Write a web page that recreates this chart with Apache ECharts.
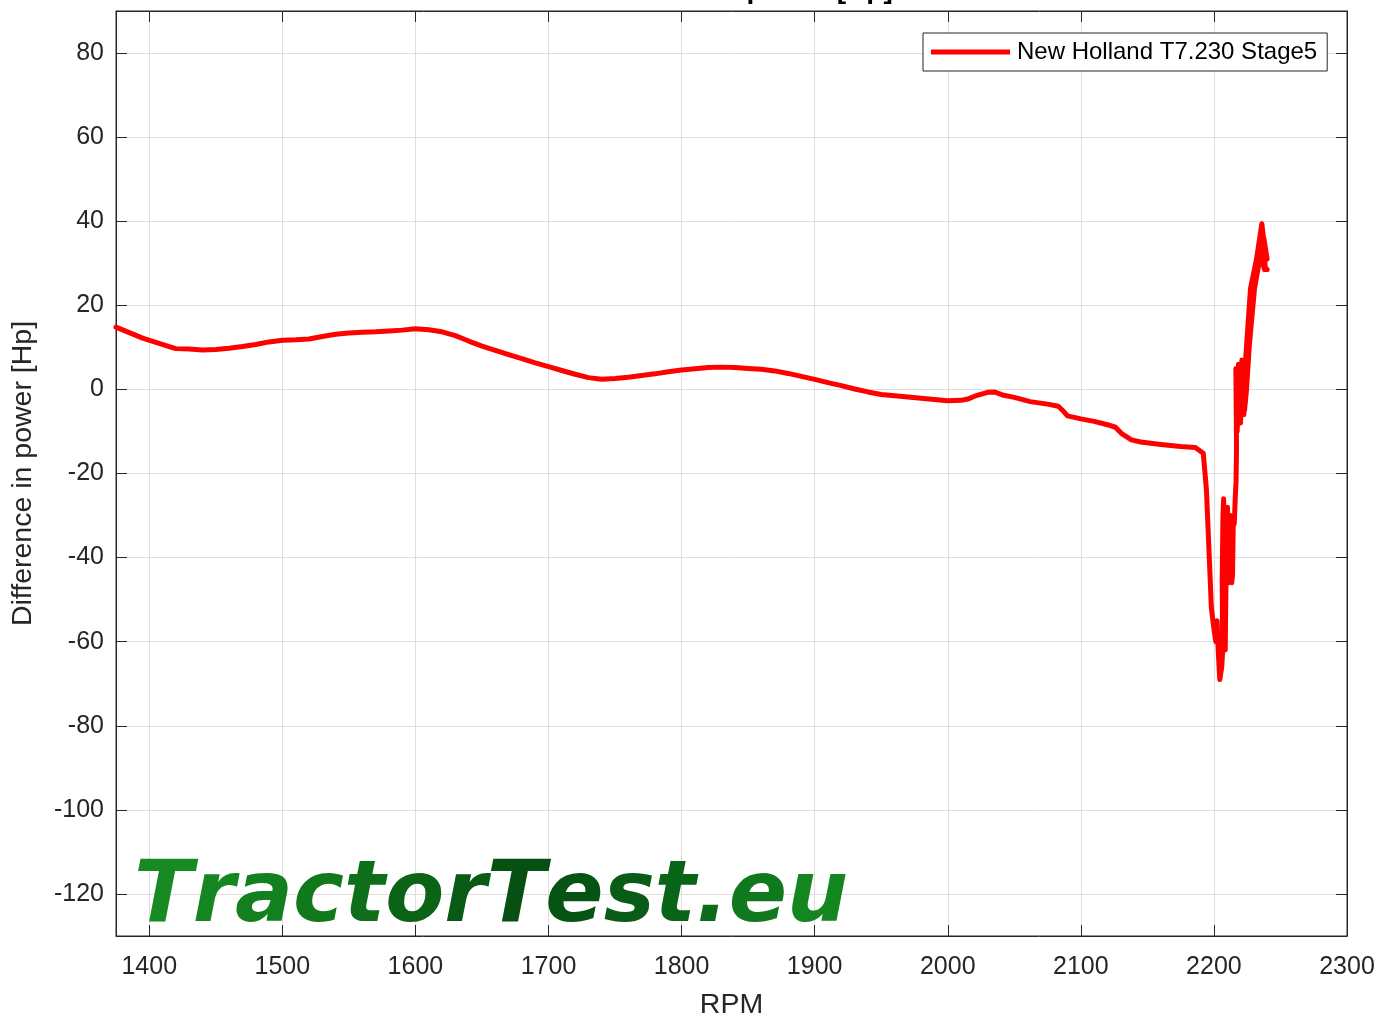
<!DOCTYPE html>
<html>
<head>
<meta charset="utf-8">
<title>Difference in power [Hp]</title>
<script src="https://cdn.jsdelivr.net/npm/echarts@6/dist/echarts.min.js"></script>
<style>
  html, body { margin: 0; padding: 0; background: #fff; }
  #main { width: 1382px; height: 1019px; }
</style>
</head>
<body>
<div id="main"></div>
<script>
// curve: rpm -> power difference [Hp]
const seriesName = 'New Holland T7.230 Stage5'

const rpm = [
  1375, 1385, 1395, 1405, 1415, 1420, 1430, 1440, 1450, 1460,
  1470, 1480, 1490, 1500, 1510, 1520, 1530, 1540, 1550, 1560,
  1570, 1580, 1590, 1600, 1610, 1620, 1630, 1640, 1650, 1660,
  1670, 1680, 1690, 1700, 1710, 1720, 1730, 1740, 1750, 1760,
  1770, 1780, 1790, 1800, 1810, 1820, 1830, 1840, 1850, 1860,
  1870, 1880, 1890, 1900, 1910, 1920, 1930, 1940, 1950, 1960,
  1970, 1980, 1990, 2000, 2010, 2015, 2022, 2030, 2035, 2042,
  2050, 2062, 2075, 2083, 2087, 2090, 2100, 2110, 2120, 2126,
  2131, 2138, 2145, 2160, 2175, 2186, 2192
]
const hpDiff = [
  14.8, 13.5, 12.2, 11.2, 10.2, 9.7, 9.6, 9.4, 9.5, 9.8,
  10.2, 10.7, 11.3, 11.7, 11.8, 12.0, 12.6, 13.1, 13.4, 13.6,
  13.7, 13.9, 14.1, 14.4, 14.2, 13.7, 12.8, 11.5, 10.3, 9.3,
  8.3, 7.3, 6.3, 5.4, 4.5, 3.6, 2.8, 2.4, 2.6, 2.9,
  3.3, 3.7, 4.2, 4.6, 4.9, 5.2, 5.3, 5.2, 5.0, 4.8,
  4.4, 3.8, 3.1, 2.4, 1.6, 0.9, 0.1, -0.6, -1.2, -1.5,
  -1.8, -2.1, -2.4, -2.7, -2.6, -2.3, -1.4, -0.7, -0.6, -1.4,
  -1.9, -2.9, -3.5, -4.0, -5.2, -6.3, -7.0, -7.6, -8.4, -9.0,
  -10.6, -12.0, -12.5, -13.1, -13.6, -13.8, -15.2
]

// the noisy bit at the top of the rev range (pen goes back and forth)
const rpmTail = [
  2194.4, 2198.1, 2200, 2201.4, 2202.4, 2203.2, 2204.4, 2205.9, 2206.6, 2206.2,
  2206.8, 2207.3, 2207.8, 2208, 2208.5, 2209, 2209.6, 2210.2, 2210.8, 2211.3,
  2212, 2212.6, 2213.4, 2214, 2214.6, 2215.3, 2216, 2216.6, 2217, 2216.5,
  2217.5, 2218.5, 2220, 2221, 2222.5, 2224, 2227.5, 2232, 2236, 2237.3,
  2238, 2238.5, 2240, 2238, 2235, 2230.5, 2226.5, 2224.5, 2223, 2226,
  2229, 2233.5, 2237.5, 2240
]
const hpTail = [
  -24, -52, -57, -60, -55, -62, -69, -66, -62, -45,
  -30, -26, -40, -58, -62, -48, -32, -28, -44, -46,
  -36, -30, -46, -44, -30, -32, -26, -22, -14, 5,
  -10, 6, -8, 7, -6, 8, 24, 31, 39.4, 39,
  34, 29, 28.5, 28.5, 32, 24, 10, 0, -5, 14,
  22, 30, 36, 31
]

const xRange = [1375, 2300]
const yRange = [-130, 90]

// watermark letters, dark in the middle and lighter green towards the ends
const markChars = ['T', 'r', 'a', 'c', 't', 'o', 'r', 'T', 'e', 's', 't', '.', 'e', 'u']
const markColors = ['#178a24', '#158622', '#13801f', '#11781c', '#0e6e19', '#0b6316', '#095a14',
  '#065012', '#065413', '#085c15', '#0a6417', '#0c6c1a', '#10791d', '#138620']

const chart = echarts.init(document.getElementById('main'))

const font = 'Liberation Sans, Arial, Helvetica, sans-serif'
const axisColor = '#262626'

const points = rpm.map((r, i) => [r, hpDiff[i]])
  .concat(rpmTail.map((r, i) => [r, hpTail[i]]))

const markFont = 'italic bold 86px DejaVu Sans'
const markRich = {}
markChars.forEach((c, i) => {
  markRich['c' + i] = { fill: markColors[i], font: markFont }
})
const markText = markChars.map((c, i) => '{c' + i + '|' + c + '}').join('')

const option = {
  backgroundColor: '#fff',
  animation: false,
  grid: {
    left: 116, top: 11, right: 35, bottom: 83,
    outerBoundsMode: 'none',
    show: true, borderColor: axisColor, borderWidth: 1
  },
  legend: {
    left: 923, top: 33,
    padding: [7, 10, 7, 8],
    borderColor: axisColor, borderWidth: 1, borderRadius: 0,
    backgroundColor: '#fff',
    icon: 'rect',
    itemWidth: 79, itemHeight: 5, itemGap: 0,
    textStyle: { fontFamily: font, fontSize: 24, color: '#000', padding: [0, 0, 0, 2], lineHeight: 24 },
    data: [seriesName]
  },
  xAxis: [{
    type: 'value', min: xRange[0], max: xRange[1], splitNumber: 9,
    name: 'RPM', nameLocation: 'middle', nameGap: 55,
    nameTextStyle: { fontFamily: font, fontSize: 28.5, color: axisColor },
    axisLine: { show: true, onZero: false, lineStyle: { color: axisColor, width: 1 } },
    axisTick: { inside: true, length: 11, lineStyle: { color: axisColor } },
    axisLabel: {
      showMinLabel: false, margin: 19, fontFamily: font, fontSize: 25, color: axisColor,
      formatter: v => String(v)
    },
    splitLine: { show: true, lineStyle: { color: '#dedede', width: 1 } }
  }, {
    type: 'value', position: 'top', min: xRange[0], max: xRange[1], splitNumber: 9,
    axisLine: { show: true, onZero: false, lineStyle: { color: axisColor, width: 1 } },
    axisTick: { inside: true, length: 11, lineStyle: { color: axisColor } },
    axisLabel: { show: false },
    splitLine: { show: false }
  }],
  yAxis: [{
    type: 'value', min: yRange[0], max: yRange[1], splitNumber: 11,
    name: 'Difference in power [Hp]', nameLocation: 'middle', nameGap: 78,
    nameTextStyle: { fontFamily: font, fontSize: 28.5, color: axisColor },
    axisLine: { show: true, onZero: false, lineStyle: { color: axisColor, width: 1 } },
    axisTick: { inside: true, length: 11, lineStyle: { color: axisColor } },
    axisLabel: { showMinLabel: false, showMaxLabel: false, margin: 12, fontFamily: font, fontSize: 25, color: axisColor },
    splitLine: { show: true, lineStyle: { color: '#dedede', width: 1 } }
  }, {
    type: 'value', position: 'right', min: yRange[0], max: yRange[1], splitNumber: 11,
    axisLine: { show: true, onZero: false, lineStyle: { color: axisColor, width: 1 } },
    axisTick: { inside: true, length: 11, lineStyle: { color: axisColor } },
    axisLabel: { show: false },
    splitLine: { show: false }
  }],
  graphic: [{
    // title sits above the canvas, only the descenders peek in
    type: 'text', x: 731, y: 4, z: 50,
    style: {
      text: 'Difference in power [Hp]', font: 'bold 28px ' + font, fill: '#000',
      align: 'center', verticalAlign: 'bottom'
    }
  }, {
    type: 'text', x: 134, y: 856, z: 50,
    style: {
      text: markText,
      rich: markRich,
      font: markFont,
      verticalAlign: 'top'
    }
  }],
  series: [{
    name: seriesName,
    type: 'line',
    symbol: 'none',
    clip: true,
    z: 10,
    lineStyle: { color: '#ff0000', width: 5, join: 'round', cap: 'round' },
    itemStyle: { color: '#ff0000' },
    data: points
  }]
}

chart.setOption(option)
</script>
</body>
</html>
